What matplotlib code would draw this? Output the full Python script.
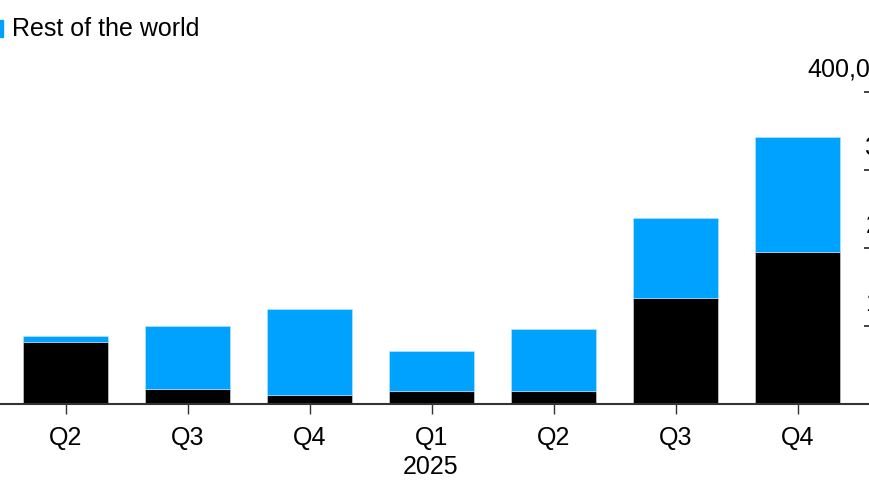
import matplotlib.pyplot as plt
import matplotlib.transforms as mtransforms
from matplotlib.patches import Rectangle

# %% Data
quarters = ['Q2', 'Q3', 'Q4', 'Q1', 'Q2', 'Q3', 'Q4']
china = [80000, 19000, 11500, 16500, 17000, 135500, 194500]
rest_of_world = [7500, 81000, 110000, 51500, 79000, 102500, 147500]
y_ticks = [100000, 200000, 300000, 400000]
y_labels = ['100,000', '200,000', '300,000', '400,000']

BLUE = '#00a2ff'
W, H = 870, 492
FS = 18

# %% Plot
plt.rcParams['font.family'] = ['Liberation Sans', 'DejaVu Sans']
fig = plt.figure(figsize=(W / 100, H / 100), dpi=100)

# axes in pixel terms: baseline at y=404, 400k at y=92, right edge at x=864
ax = fig.add_axes([0, (H - 404) / H, 864 / W, (404 - 92) / H])

x = list(range(len(quarters)))
ax.bar(x, china, width=0.7, color='black', edgecolor='#dddddd', linewidth=0.4)
ax.bar(x, rest_of_world, bottom=china, width=0.7, color=BLUE,
       edgecolor='#bfe6ff', linewidth=0.4)

ax.set_xlim(-65.5 / 122, (864 - 65.5) / 122)
ax.set_ylim(0, 400000)

for s in ax.spines.values():
    s.set_visible(False)
ax.axhline(0, xmin=0, xmax=1.02, color='#333333', lw=1.5, clip_on=False, zorder=3)

ax.set_xticks(x)
ax.set_xticklabels(quarters, fontsize=FS)
ax.tick_params(axis='x', length=7.2, width=1, color='#333333', pad=9)

ax.yaxis.tick_right()
ax.set_yticks(y_ticks)
ax.set_yticklabels([])
ax.tick_params(axis='y', length=6, width=1.2, color='#222222', direction='out')

blend = mtransforms.blended_transform_factory(ax.transAxes, ax.transData)
for v, lab in zip(y_ticks, y_labels):
    dx = -57 if v == 400000 else 1.5
    tr = mtransforms.offset_copy(blend, fig=fig, x=dx * 0.72, y=15 * 0.72, units='points')
    ax.text(1.0, v, lab, transform=tr, ha='left', va='baseline', fontsize=FS,
            color='black', clip_on=False)

fig.text(431 / W, 1 - 467 / H, '2025', ha='center', va='center', fontsize=FS)

# legend
fig.patches.append(Rectangle((0, 1 - 37 / H), 3 / W, 17 / H, transform=fig.transFigure,
                             color=BLUE, figure=fig))
fig.text(12 / W, 1 - 29 / H, 'Rest of the world', ha='left', va='center', fontsize=FS)

fig.savefig('out.png', dpi=100)
